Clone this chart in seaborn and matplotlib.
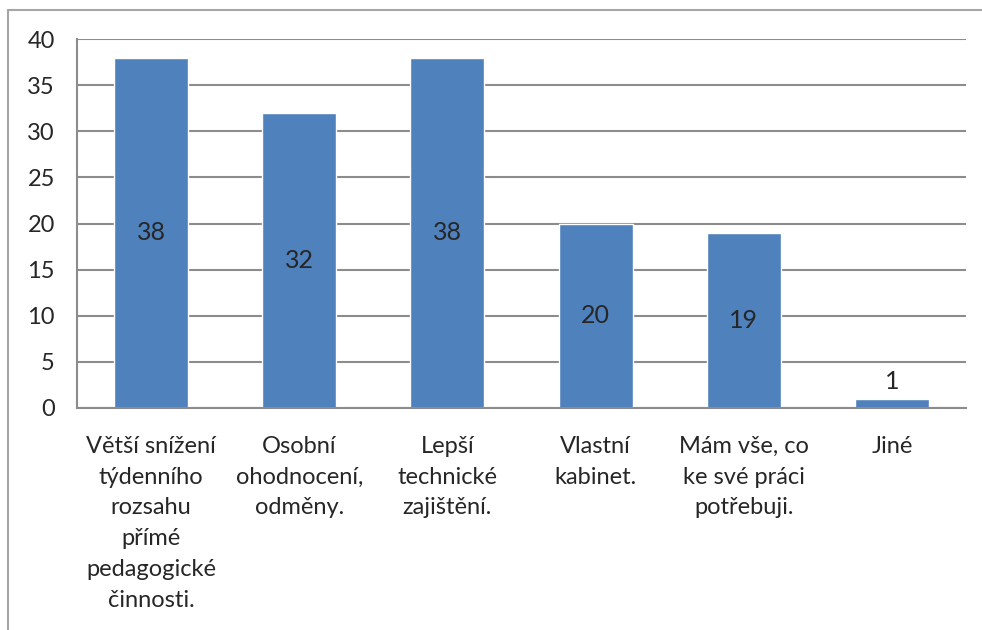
import matplotlib
matplotlib.use("Agg")
import matplotlib.pyplot as plt
import seaborn as sns
from matplotlib.lines import Line2D

# Data
categories = [
    "Větší snížení\ntýdenního\nrozsahu\npřímé\npedagogické\nčinnosti.",
    "Osobní\nohodnocení,\nodměny.",
    "Lepší\ntechnické\nzajištění.",
    "Vlastní\nkabinet.",
    "Mám vše, co\nke své práci\npotřebuji.",
    "Jiné",
]
counts = [38, 32, 38, 20, 19, 1]
y_ticks = [0, 5, 10, 15, 20, 25, 30, 35, 40]

sns.set_style("white")
plt.rcParams['font.family'] = ['Lato', 'DejaVu Sans']
FS = 17

fig = plt.figure(figsize=(9.82, 6.3), dpi=100)
ax = fig.add_axes([0.0784, 0.3524, 0.9053, 0.5856])

bar_color = "#4F81BD"
sns.barplot(x=list(range(len(counts))), y=counts, color=bar_color,
            width=0.5, saturation=1, ax=ax, zorder=3)

ax.set_xlim(-0.5, len(counts) - 0.5)
ax.set_ylim(0, 40)
ax.set_yticks(y_ticks)
ax.set_yticklabels([str(t) for t in y_ticks], fontsize=FS)

# gridlines
grid_col = "#8C8C8C"
ax.yaxis.grid(True, color=grid_col, linewidth=1.5, zorder=0)
ax.tick_params(axis="y", direction="out", length=8, width=1.5, color=grid_col, pad=8)

# category labels, tick marks at boundaries
ax.set_xticks(range(len(counts)))
ax.set_xticklabels(categories, fontsize=FS, linespacing=1.58, va="top")
ax.tick_params(axis="x", which="major", length=0, pad=20)
ax.set_xticks([i - 0.5 for i in range(len(counts) + 1)], minor=True)
ax.tick_params(axis="x", which="minor", direction="out", length=8, width=1.5, color=grid_col)

for side in ["top", "right"]:
    ax.spines[side].set_visible(False)
for side in ["left", "bottom"]:
    ax.spines[side].set_color(grid_col)
    ax.spines[side].set_linewidth(1.5)
    ax.spines[side].set_zorder(4)

# data labels (centered, outside when bar too short)
for i, v in enumerate(counts):
    if v >= 3:
        ax.text(i, v / 2, str(v), ha="center", va="center", fontsize=FS + 1, zorder=5)
    else:
        ax.text(i, v + 0.6, str(v), ha="center", va="bottom", fontsize=FS + 1, zorder=5)

ax.set_xlabel("")
ax.set_ylabel("")

# chart border (only top and left visible in the crop)
border_col = "#A6A6A6"
fig.add_artist(Line2D([8 / 982, 1.0], [1 - 10 / 630, 1 - 10 / 630],
                      transform=fig.transFigure, color=border_col, linewidth=1.5))
fig.add_artist(Line2D([8 / 982, 8 / 982], [0, 1 - 10 / 630],
                      transform=fig.transFigure, color=border_col, linewidth=1.5))

fig.savefig("out.png", dpi=100)
